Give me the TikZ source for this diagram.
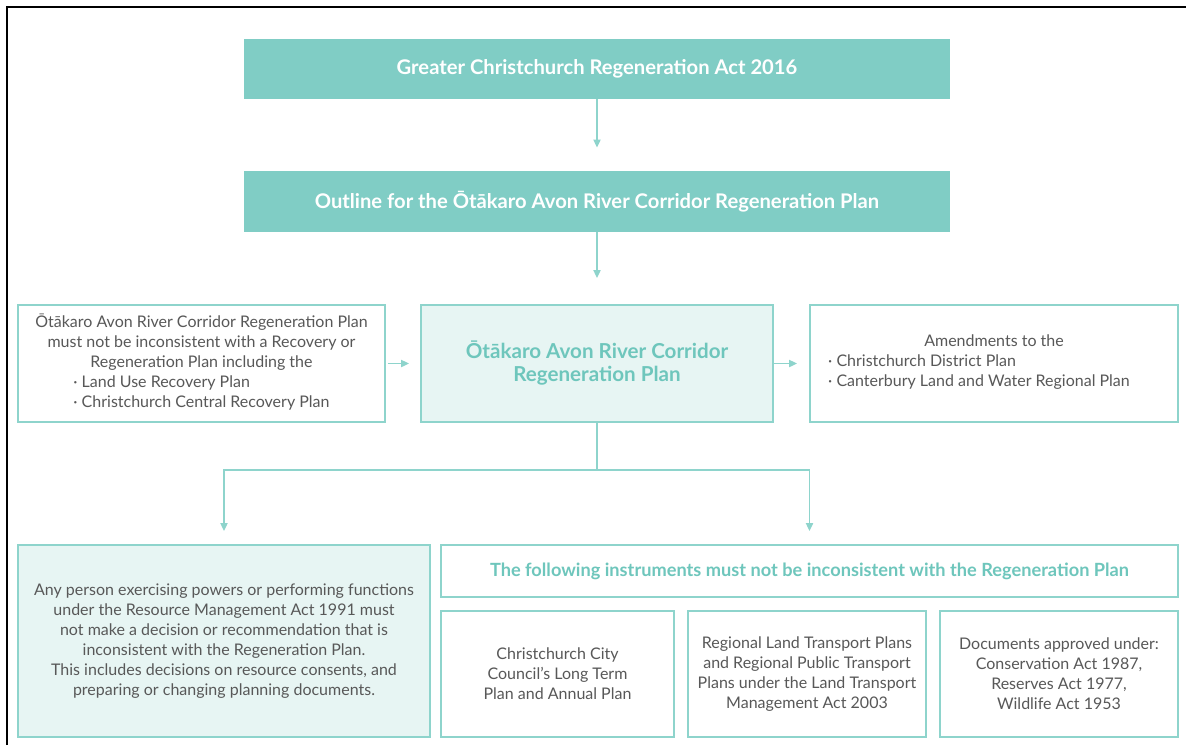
\documentclass[tikz,border=0pt]{standalone}
\usepackage{fontspec}
\setmainfont{Lato}
\usetikzlibrary{arrows.meta}
\definecolor{tealF}{HTML}{80CDC5}
\definecolor{tealL}{HTML}{E7F5F3}
\definecolor{tealB}{HTML}{8ED4CC}
\definecolor{txtG}{HTML}{585858}
\definecolor{tealT}{HTML}{6EC6BC}
\begin{document}
\begin{tikzpicture}[x=0.5pt,y=-0.5pt,
  box/.style={draw=tealB, line width=0.9pt, rectangle, inner sep=0pt, text=txtG,
    font=\fontsize{8}{10}\selectfont, align=center},
  title/.style={fill=tealF, rectangle, inner sep=0pt, text=white,
    font=\bfseries\fontsize{10.1}{12}\selectfont, align=center},
  lite/.style={box, fill=tealL},
  conn/.style={draw=tealB, line width=0.9pt},
  arr/.style={conn, -{Triangle[length=4pt,width=3.5pt]}}
]
\useasboundingbox (0,0) rectangle (1186,745);
\fill[white] (0,0) rectangle (1186,745);
\draw[line width=1.4pt, black] (7,745) -- (7,7) -- (1186,7);

\node[title, minimum width=353pt, minimum height=30pt] (act) at (597,69)
  {Greater Christchurch Regeneration Act 2016};
\node[title, minimum width=353pt, minimum height=30.5pt] (outline) at (597,201.5)
  {Outline for the Ōtākaro Avon River Corridor Regeneration Plan};

\node[box, minimum width=183.5pt, minimum height=58.5pt] (left) at (201.5,363.5)
  {Ōtākaro Avon River Corridor Regeneration Plan\\must not be inconsistent with a Recovery or\\Regeneration Plan including the\\\begin{tabular}[t]{@{}l@{}}· Land Use Recovery Plan\\· Christchurch Central Recovery Plan\end{tabular}};
\node[lite, minimum width=176pt, minimum height=58.5pt, text=tealT,
  font=\bfseries\fontsize{10.3}{11.5}\selectfont] (plan) at (597,363.5)
  {Ōtākaro Avon River Corridor\\Regeneration Plan};
\node[box, minimum width=184pt, minimum height=58.5pt] (right) at (994,363.5)
  {Amendments to the\\\begin{tabular}[t]{@{}l@{}}· Christchurch District Plan\\· Canterbury Land and Water Regional Plan\end{tabular}\hspace*{15pt}};

\node[lite, minimum width=206pt, minimum height=96pt] (rma) at (224,641)
  {Any person exercising powers or performing functions\\under the Resource Management Act 1991 must\\not make a decision or recommendation that is\\inconsistent with the Regeneration Plan.\\This includes decisions on resource consents, and\\preparing or changing planning documents.};
\node[box, minimum width=368.5pt, minimum height=26pt, text=tealT,
  font=\bfseries\fontsize{9.1}{10}\selectfont] (instr) at (809.5,571)
  {The following instruments must not be inconsistent with the Regeneration Plan};
\node[box, minimum width=116.5pt, minimum height=63pt] (ltp) at (557.5,674)
  {Christchurch City\\Council's Long Term\\Plan and Annual Plan};
\node[box, minimum width=119pt, minimum height=63pt] (rltp) at (807,674)
  {Regional Land Transport Plans\\and Regional Public Transport\\Plans under the Land Transport\\Management Act 2003};
\node[box, minimum width=119pt, minimum height=63pt] (docs) at (1059,674)
  {Documents approved under:\\Conservation Act 1987,\\Reserves Act 1977,\\Wildlife Act 1953};

\draw[arr, shorten >=11.5pt] (act) -- (outline);
\draw[arr, shorten >=13pt] (outline) -- (plan);
\draw[arr, shorten <=1pt, shorten >=5.5pt] (left) -- (plan);
\draw[arr, shorten >=6pt] (plan) -- (right);
\coordinate (j) at (597,470);
\draw[conn] (plan.south) -- (j);
\draw[arr, shorten >=6.5pt] (j) -| (rma.north);
\draw[arr, shorten >=6.5pt] (j) -| (instr.north);
\end{tikzpicture}
\end{document}
